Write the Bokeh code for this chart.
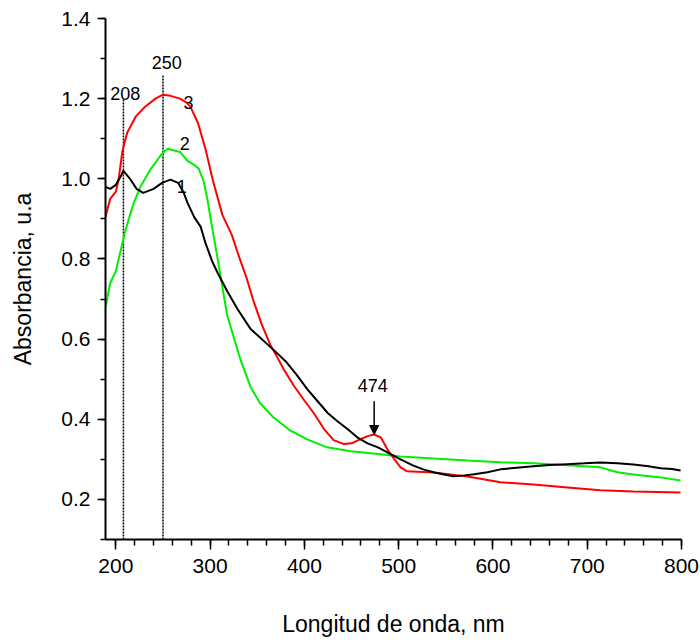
from bokeh.plotting import figure
from bokeh.models import FixedTicker, ColumnDataSource, Arrow, NormalHead, Range1d, PrintfTickFormatter
from bokeh.core.properties import value
from bokeh.embed import file_html
from bokeh.resources import INLINE

# ---- data ----
x1 = [189, 194, 200, 205, 208, 215, 222, 229, 240, 249, 258, 266, 272, 276, 283, 290, 295, 302, 308,
      318, 329, 343, 350, 364, 371, 380, 392, 403, 414, 425, 435, 446, 456, 467, 478, 490, 502, 515,
      526, 537, 548, 558, 570, 580, 594, 608, 625, 643, 660, 679, 697, 714, 732, 749, 765, 778, 790, 799]
y1 = [0.98, 0.975, 0.985, 1.005, 1.02, 1.0, 0.975, 0.965, 0.975, 0.99, 0.998, 0.99, 0.965, 0.94, 0.905,
      0.88, 0.84, 0.795, 0.765, 0.72, 0.675, 0.625, 0.61, 0.58, 0.565, 0.545, 0.51, 0.475, 0.445, 0.415,
      0.395, 0.375, 0.355, 0.34, 0.33, 0.315, 0.30, 0.285, 0.275, 0.268, 0.262, 0.258, 0.26, 0.263,
      0.268, 0.275, 0.279, 0.283, 0.286, 0.288, 0.29, 0.292, 0.29, 0.287, 0.283, 0.278, 0.276, 0.272]

x2 = [189, 194, 200, 205, 210, 215, 219, 226, 231, 237, 242, 247, 252, 255, 260, 268, 276, 283, 288,
      293, 297, 302, 308, 313, 318, 325, 332, 343, 353, 367, 385, 403, 424, 449, 481, 502, 537, 573,
      608, 643, 679, 714, 732, 749, 778, 799]
y2 = [0.68, 0.74, 0.77, 0.82, 0.87, 0.91, 0.94, 0.98, 1.0, 1.025, 1.04, 1.057, 1.07, 1.075, 1.072,
      1.067, 1.045, 1.035, 1.025, 0.995, 0.95, 0.88, 0.80, 0.73, 0.66, 0.605, 0.55, 0.48, 0.44, 0.405,
      0.372, 0.35, 0.33, 0.32, 0.313, 0.307, 0.302, 0.297, 0.293, 0.29, 0.285, 0.28, 0.268, 0.262,
      0.255, 0.247]

x3 = [189, 194, 200, 203, 207, 212, 221, 231, 242, 250, 258, 268, 275, 279, 287, 295, 303, 313, 323,
      330, 339, 346, 355, 364, 370, 378, 389, 399, 410, 421, 431, 442, 450, 459, 467, 474, 481, 488,
      495, 502, 509, 537, 573, 608, 643, 679, 714, 749, 799]
y3 = [0.905, 0.95, 0.968, 1.0, 1.07, 1.115, 1.155, 1.18, 1.20, 1.21, 1.207, 1.20, 1.19, 1.18, 1.14,
      1.075, 0.995, 0.91, 0.86, 0.81, 0.75, 0.695, 0.635, 0.585, 0.56, 0.525, 0.483, 0.45, 0.415, 0.375,
      0.348, 0.338, 0.34, 0.35, 0.358, 0.362, 0.355, 0.325, 0.302, 0.28, 0.27, 0.267, 0.257, 0.243,
      0.237, 0.23, 0.223, 0.22, 0.217]

x_ticks = [200, 300, 400, 500, 600, 700, 800]
y_ticks = [0.2, 0.4, 0.6, 0.8, 1.0, 1.2, 1.4]

peak_x = [208, 250]
peak_top = [1.20, 1.26]
peak_label = ["208", "250"]
peak_label_x = [210, 254]
peak_label_y = [1.196, 1.274]

curve_label = ["1", "2", "3"]
curve_label_x = [270, 273, 277]
curve_label_y = [0.98, 1.0875, 1.19]

band_x = 474
band_label = "474"
band_label_y = 0.468
band_arrow_start = 0.445
band_arrow_end = 0.362

FONT = "Liberation Sans"

p = figure(width=700, height=640, output_backend="svg", toolbar_location=None,
           x_range=Range1d(189, 800), y_range=Range1d(0.1, 1.4),
           min_border_left=105, min_border_right=19, min_border_top=18, min_border_bottom=101,
           x_axis_label="Longitud de onda, nm", y_axis_label="Absorbancia, u.a")
p.outline_line_color = None
p.grid.visible = False
p.background_fill_color = "white"
p.border_fill_color = "white"

# vertical dotted markers
for px, pt in zip(peak_x, peak_top):
    p.segment(x0=px, y0=0.1, x1=px, y1=pt, line_color="black", line_width=1.5, line_dash="2 1")

p.line(x2, y2, line_color="#00f000", line_width=2)
p.line(x3, y3, line_color="#ff0000", line_width=2)
p.line(x1, y1, line_color="black", line_width=2)

src_peak = ColumnDataSource(dict(x=peak_label_x, y=peak_label_y, t=peak_label))
p.text(x="x", y="y", text="t", source=src_peak, text_font=value(FONT), text_font_size="18px",
       text_align="center", text_baseline="bottom", text_color="black")

src_curve = ColumnDataSource(dict(x=curve_label_x, y=curve_label_y, t=curve_label))
p.text(x="x", y="y", text="t", source=src_curve, text_font=value(FONT), text_font_size="18px",
       text_align="center", text_baseline="middle", text_color="black")

p.text(x=[band_x - 1.5], y=[band_label_y], text=[band_label], text_font=value(FONT),
       text_font_size="18px", text_align="center", text_baseline="bottom", text_color="black")
p.add_layout(Arrow(end=NormalHead(size=9, fill_color="black", line_color="black"),
                   x_start=band_x, y_start=band_arrow_start, x_end=band_x, y_end=band_arrow_end,
                   line_color="black", line_width=1.5))

for ax in (p.xaxis[0], p.yaxis[0]):
    ax.axis_line_width = 2
    ax.major_tick_line_width = 1.5
    ax.minor_tick_line_width = 1.5
    ax.major_tick_in = 0
    ax.minor_tick_in = 0
    ax.major_label_text_font = FONT
    ax.axis_label_text_font = FONT
    ax.axis_label_text_font_style = "normal"
    ax.major_label_text_color = "black"
    ax.axis_label_text_color = "black"

p.xaxis.ticker = FixedTicker(ticks=x_ticks, minor_ticks=list(range(200, 801, 20)))
p.yaxis.ticker = FixedTicker(ticks=y_ticks, minor_ticks=[round(0.1 * i, 1) for i in range(1, 15)])
p.yaxis.formatter = PrintfTickFormatter(format="%.1f")
p.xaxis.major_tick_out = 10
p.xaxis.minor_tick_out = 6
p.yaxis.major_tick_out = 8
p.yaxis.minor_tick_out = 5
p.xaxis.major_label_text_font_size = "21px"
p.yaxis.major_label_text_font_size = "21px"
p.xaxis.axis_label_text_font_size = "23px"
p.yaxis.axis_label_text_font_size = "23px"
p.xaxis.major_label_standoff = 9
p.yaxis.major_label_standoff = 7
p.xaxis.axis_label_standoff = 35
p.yaxis.axis_label_standoff = 22

open("out.html", "w").write(file_html(p, INLINE))
